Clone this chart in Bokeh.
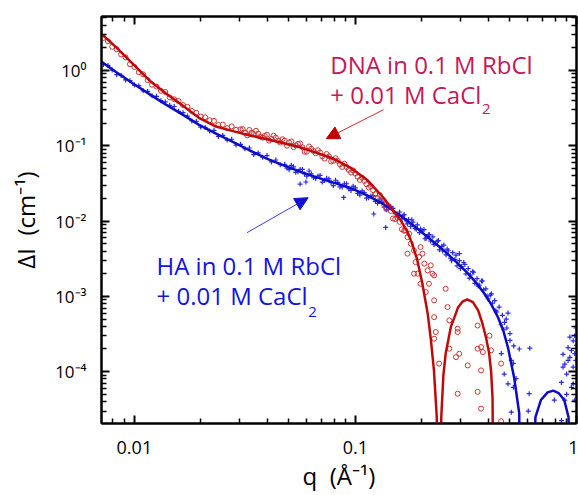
from bokeh.plotting import figure
from bokeh.models import (Range1d, LogAxis, FixedTicker, CustomJSTickFormatter,
                          Label, Arrow, NormalHead)
from bokeh.embed import file_html
from bokeh.resources import INLINE

# ---------------- data ----------------
# DNA in 0.1 M RbCl + 0.01 M CaCl2 : measured points (open circles)
dna_q = [0.00724, 0.00759, 0.00794, 0.00832, 0.00871, 0.00912, 0.00955, 0.0100, 0.01047, 0.01096,
         0.01148, 0.01202, 0.01259, 0.01318, 0.0138, 0.01445, 0.01514, 0.01585, 0.0166, 0.01738,
         0.0182, 0.01905, 0.01995, 0.02089, 0.02188, 0.02291, 0.02399, 0.02512, 0.0263, 0.02754,
         0.02884, 0.0302, 0.03162, 0.03311, 0.03467, 0.03631, 0.03802, 0.03981, 0.04169, 0.04365,
         0.04571, 0.04786, 0.05012, 0.05248, 0.05495, 0.05754, 0.06026, 0.0631, 0.06607, 0.06918,
         0.07244, 0.07586, 0.07943, 0.08318, 0.0871, 0.0912, 0.0955, 0.1, 0.1047, 0.1096,
         0.1148, 0.1202, 0.1259, 0.1318, 0.138, 0.1445, 0.1514, 0.1585, 0.166]
dna_I = [2.70, 2.44, 2.06, 1.91, 1.63, 1.49, 1.21, 1.11, 0.948, 0.889,
         0.743, 0.646, 0.610, 0.536, 0.518, 0.437, 0.414, 0.392, 0.347, 0.328,
         0.290, 0.274, 0.244, 0.239, 0.218, 0.214, 0.189, 0.191, 0.171, 0.181,
         0.163, 0.165, 0.149, 0.162, 0.143, 0.145, 0.128, 0.140, 0.123, 0.128,
         0.110, 0.117, 0.111, 0.0957, 0.106, 0.0955, 0.0832, 0.0912, 0.0794, 0.0813,
         0.0676, 0.0724, 0.0631, 0.0630, 0.0522, 0.0520, 0.0440, 0.0427, 0.0352, 0.0341,
         0.0278, 0.0257, 0.0202, 0.0187, 0.0145, 0.0136, 0.0106, 0.00975, 0.00746]
dna_q_mid = [0.0309, 0.0324, 0.0339, 0.0355, 0.0372, 0.0389, 0.0407, 0.0427, 0.0447, 0.0468,
             0.0490, 0.0513, 0.0537, 0.0562, 0.0589, 0.0617, 0.0646, 0.0676, 0.0708, 0.0741,
             0.0776, 0.0813, 0.0851, 0.0891, 0.0933, 0.0977, 0.1023, 0.1072, 0.1122, 0.1175,
             0.1230, 0.1288, 0.1349, 0.1413, 0.1479, 0.1549, 0.1622]
dna_I_mid = [0.166, 0.137, 0.149, 0.158, 0.133, 0.135, 0.117, 0.136, 0.117, 0.122,
             0.100, 0.114, 0.101, 0.107, 0.0832, 0.0977, 0.0851, 0.0871, 0.0724, 0.0776,
             0.0617, 0.0683, 0.0567, 0.0578, 0.0478, 0.0469, 0.0387, 0.0375, 0.0308, 0.0290,
             0.0228, 0.0221, 0.0164, 0.0155, 0.0108, 0.0111, 0.00778]
dna_q_tail = [0.168, 0.172, 0.178, 0.172, 0.184, 0.197, 0.194, 0.201, 0.187, 0.184,
              0.191, 0.205, 0.219, 0.223, 0.212, 0.197, 0.215, 0.227, 0.256, 0.208,
              0.227, 0.261, 0.227, 0.266, 0.231, 0.227, 0.290, 0.290, 0.357, 0.404,
              0.266, 0.285, 0.295, 0.357, 0.370, 0.377, 0.411, 0.239, 0.322, 0.370,
              0.456, 0.290, 0.357, 0.370, 0.456, 0.175]
dna_I_tail = [0.0075, 0.00612, 0.0050, 0.00369, 0.00408, 0.00451, 0.00333, 0.00369, 0.00285, 0.0020,
              0.0020, 0.00272, 0.00258, 0.0020, 0.00221, 0.00147, 0.00147, 0.0019, 0.00126, 0.00114,
              8.85e-4, 7.2e-4, 5.3e-4, 4.8e-4, 3.36e-4, 2.74e-4, 3.72e-4, 3.36e-4, 4.1e-4, 3.0e-4,
              2.02e-4, 1.56e-4, 1.73e-4, 2.02e-4, 2.12e-4, 1.82e-4, 1.92e-4, 1.28e-4, 1.21e-4, 1.04e-4,
              1.28e-4, 5.1e-5, 5.4e-5, 3.23e-5, 2.2e-5, 0.0068]

# DNA model curve (two lobes)
dna_fit_q = [0.0071, 0.00826, 0.00982, 0.0117, 0.0139, 0.0166, 0.0197, 0.0234, 0.0282, 0.0333,
             0.0398, 0.0473, 0.0562, 0.0668, 0.0794, 0.0948, 0.1135, 0.134, 0.1603, 0.1718,
             0.181, 0.1905, 0.2005, 0.2123, 0.2195, 0.2265, 0.2333, 0.2360]
dna_fit_I = [3.05, 2.04, 1.23, 0.736, 0.495, 0.339, 0.232, 0.180, 0.155, 0.137,
             0.1216, 0.1078, 0.0955, 0.0804, 0.0676, 0.0513, 0.0347, 0.0204, 0.01023, 0.00724,
             0.0049, 0.00302, 0.00151, 5.89e-4, 2.63e-4, 1.05e-4, 2.5e-5, 1e-6]
dna_fit2_q = [0.2415, 0.2445, 0.250, 0.256, 0.270, 0.291, 0.305, 0.320, 0.340, 0.359,
              0.375, 0.390, 0.402, 0.411, 0.417, 0.4215]
dna_fit2_I = [1e-6, 2.5e-5, 9e-5, 1.74e-4, 3.9e-4, 7.1e-4, 8.5e-4, 9.1e-4, 8.4e-4, 6.5e-4,
              4.4e-4, 2.8e-4, 1.8e-4, 1.0e-4, 4.5e-5, 1e-6]

# HA in 0.1 M RbCl + 0.01 M CaCl2 : measured points (crosses)
ha_q = dna_q[:68]
ha_I = [1.194, 1.164, 1.012, 0.879, 0.859, 0.748, 0.731, 0.638, 0.627, 0.536,
        0.526, 0.460, 0.453, 0.397, 0.382, 0.344, 0.332, 0.286, 0.275, 0.248,
        0.213, 0.210, 0.177, 0.175, 0.157, 0.160, 0.133, 0.137, 0.119, 0.122,
        0.102, 0.1045, 0.0910, 0.0933, 0.0762, 0.0802, 0.0703, 0.0740, 0.0610, 0.0647,
        0.0560, 0.0568, 0.0481, 0.0524, 0.0453, 0.0484, 0.0394, 0.0422, 0.0367, 0.0404,
        0.0345, 0.0362, 0.0296, 0.0326, 0.0284, 0.0313, 0.0255, 0.0275, 0.0221, 0.0238,
        0.0204, 0.0217, 0.0172, 0.0184, 0.0141, 0.0155, 0.01256, 0.01318]
ha_q_mid = [0.0490, 0.0513, 0.0537, 0.0562, 0.0589, 0.0617, 0.0646, 0.0676, 0.0708, 0.0741,
            0.0776, 0.0813, 0.0851, 0.0891, 0.0933, 0.0977, 0.1023, 0.1072, 0.1122, 0.1175,
            0.1230, 0.1288, 0.1349, 0.1413, 0.1479, 0.1549]
ha_I_mid = [0.0505, 0.0550, 0.0444, 0.0485, 0.0422, 0.0462, 0.0376, 0.0394, 0.0329, 0.0370,
            0.0324, 0.0348, 0.0284, 0.0313, 0.0267, 0.0290, 0.0233, 0.0251, 0.0201, 0.0215,
            0.01826, 0.0195, 0.01535, 0.0158, 0.01476, 0.01147]
ha_q_high = [0.1622, 0.1660, 0.1698, 0.1738, 0.1778, 0.1820, 0.1862, 0.1905, 0.1950, 0.1995,
             0.2042, 0.2089, 0.2138, 0.2188, 0.2239, 0.2291, 0.2344, 0.2399, 0.2455, 0.2512,
             0.2570, 0.2630, 0.2692, 0.2754, 0.2818, 0.2884, 0.2951, 0.3020, 0.3090, 0.3162,
             0.3236, 0.3311, 0.3388, 0.3467, 0.3548, 0.3631, 0.3715, 0.3802, 0.3890, 0.3981,
             0.4074, 0.4169, 0.4266, 0.4365, 0.4467]
ha_I_high = [0.0107, 0.0122, 0.01007, 0.0105, 0.00847, 0.00966, 0.0080, 0.00891, 0.00702, 0.00745,
             0.00771, 0.00593, 0.00659, 0.00543, 0.00618, 0.00498, 0.00540, 0.00415, 0.00461, 0.00479,
             0.00356, 0.00403, 0.00321, 0.0038, 0.0031, 0.00254, 0.00299, 0.00249, 0.00281, 0.00199,
             0.00234, 0.00192, 0.00213, 0.00149, 0.00172, 0.00141, 0.0016, 0.00122, 0.00126, 0.00093,
             0.00104, 0.00081, 0.00088, 0.00062, 0.00072]
ha_q_high2 = [0.1641, 0.1718, 0.1799, 0.1884, 0.1972, 0.2065, 0.2163, 0.2265, 0.2371, 0.2483,
              0.2600, 0.2723, 0.2851, 0.2985, 0.3126, 0.3273, 0.3428, 0.3589, 0.3758, 0.3936,
              0.4121, 0.4315]
ha_I_high2 = [0.01168, 0.00916, 0.01039, 0.00779, 0.00783, 0.00582, 0.00656, 0.00489, 0.0055, 0.0040,
              0.00425, 0.00297, 0.00353, 0.00235, 0.00265, 0.00175, 0.00209, 0.00137, 0.0016, 0.00101,
              0.00108, 0.000646]
ha_q_tail = [0.0562, 0.0597, 0.0885, 0.121, 0.137, 0.295, 0.455, 0.462, 0.468, 0.473,
             0.481, 0.484, 0.490, 0.500, 0.457, 0.471, 0.490, 0.507, 0.518, 0.518,
             0.507, 0.533, 0.551, 0.605, 0.615, 0.611, 0.794, 0.500, 0.520, 0.855,
             0.855, 0.869, 0.869, 0.885, 0.885, 0.902, 0.902, 0.916, 0.916, 0.933,
             0.933, 0.948, 0.948, 0.966, 0.966, 0.966, 0.982, 0.982, 0.982, 0.993,
             0.993, 0.998]
ha_I_tail = [0.031, 0.033, 0.0206, 0.0124, 0.00824, 0.0037, 4.2e-4, 5.6e-4, 3.6e-4, 4.5e-4,
             5.0e-4, 3.8e-4, 6.0e-4, 3.2e-4, 1.74e-4, 9.3e-5, 6.9e-5, 1.41e-4, 1.29e-4, 6.2e-5,
             2.9e-5, 8.1e-5, 2.0e-4, 3.0e-5, 2.05e-4, 5.1e-5, 4.2e-5, 2.6e-4, 2.2e-4, 2.24e-5,
             7.2e-5, 1.15e-4, 1.70e-4, 1.26e-4, 4.2e-5, 5.0e-5, 9.3e-5, 1.41e-4, 2.09e-4, 2.88e-4,
             1.55e-4, 1.91e-4, 6.2e-5, 2.57e-4, 1.15e-4, 6.9e-5, 3.0e-4, 1.74e-4, 4.2e-5, 3.8e-4,
             1.41e-4, 2.24e-4]

# HA model curve (two lobes)
ha_fit_q = [0.00706, 0.00826, 0.00982, 0.0117, 0.0139, 0.0166, 0.0197, 0.0234, 0.0279, 0.0331,
            0.0397, 0.0473, 0.0562, 0.0668, 0.0796, 0.0948, 0.113, 0.1346, 0.1603, 0.1905,
            0.2188, 0.2512, 0.2871, 0.3236, 0.352, 0.3819, 0.411, 0.4416, 0.466, 0.4898,
            0.5224, 0.5508, 0.5559]
ha_fit_I = [1.318, 0.955, 0.676, 0.484, 0.351, 0.257, 0.188, 0.1445, 0.1122, 0.0871,
            0.0676, 0.0550, 0.0452, 0.0380, 0.0324, 0.0275, 0.0219, 0.0166, 0.01175, 0.00794,
            0.00569, 0.00407, 0.00282, 0.0020, 0.00151, 0.0011, 7.9e-4, 5.25e-4, 3.55e-4, 2.09e-4,
            8.3e-5, 2.8e-5, 1e-6]
ha_fit2_q = [0.628, 0.652, 0.69, 0.74, 0.785, 0.83, 0.88, 0.92, 0.95]
ha_fit2_I = [1e-6, 2.5e-5, 4.2e-5, 5.3e-5, 5.6e-5, 5.2e-5, 4.2e-5, 2.5e-5, 1e-6]

# axes
x_ticks = [0.01, 0.1, 1]
y_ticks = [1, 0.1, 0.01, 0.001, 0.0001]
x_title = "q \u00a0(Å⁻¹)"
y_title = "ΔI \u00a0(cm⁻¹)"

# ---------------- styling ----------------
X_START, X_END = 0.0071, 1.0
Y_START, Y_END = 2.05e-5, 5.2
FONT = "Open Sans"
DNA_TEXT = "#c4195a"
HA_TEXT = "#1414e0"
RED_LINE = "#c00a0a"
BLUE_LINE = "#0c0cc8"
RED_MARK = "#d03434"
BLUE_MARK = "#2a2ae6"

x_minor = [m * 10.0 ** k for k in (-3, -2, -1) for m in range(2, 10)
           if X_START < m * 10.0 ** k < X_END]
y_minor = [m * 10.0 ** k for k in range(-5, 1) for m in range(2, 10)
           if Y_START < m * 10.0 ** k < Y_END]

p = figure(width=578, height=495, x_axis_type="log", y_axis_type="log",
           x_range=Range1d(X_START, X_END), y_range=Range1d(Y_START, Y_END),
           output_backend="svg", toolbar_location=None,
           min_border_left=101, min_border_right=2, min_border_top=16, min_border_bottom=72)
p.xgrid.visible = False
p.ygrid.visible = False
p.outline_line_color = "black"
p.outline_line_width = 2
p.background_fill_color = "white"
p.border_fill_color = "white"


def style_axis(ax, labels):
    ax.axis_line_color = "black"
    ax.axis_line_width = 2
    ax.major_tick_in = 8
    ax.major_tick_out = 0
    ax.minor_tick_in = 5
    ax.minor_tick_out = 0
    ax.major_tick_line_color = "black"
    ax.minor_tick_line_color = "black"
    ax.major_tick_line_width = 2
    ax.minor_tick_line_width = 1.5
    if labels:
        ax.major_label_text_font = FONT
        ax.major_label_text_font_size = "18px"
        ax.major_label_text_color = "black"
        ax.major_label_standoff = 14
        ax.axis_label_text_font = FONT
        ax.axis_label_text_font_size = "24px"
        ax.axis_label_text_font_style = "normal"
        ax.axis_label_text_color = "black"
    else:
        ax.formatter = CustomJSTickFormatter(code="return ' ';")
        ax.major_label_text_font_size = "1px"
        ax.major_label_text_alpha = 0
        ax.major_label_standoff = 0


xb = p.xaxis[0]
xb.ticker = FixedTicker(ticks=x_ticks, minor_ticks=x_minor)
xb.formatter = CustomJSTickFormatter(code="return String(tick);")
style_axis(xb, True)
xb.major_label_standoff = 17
xb.axis_label = x_title
xb.axis_label_standoff = 2

yl = p.yaxis[0]
yl.ticker = FixedTicker(ticks=y_ticks, minor_ticks=y_minor)
style_axis(yl, True)
yl.formatter = CustomJSTickFormatter(code="""
const sup = {"0":"\u2070","1":"\u00b9","2":"\u00b2","3":"\u00b3","4":"\u2074",
             "5":"\u2075","6":"\u2076","7":"\u2077","8":"\u2078","9":"\u2079","-":"\u207b"};
const e = String(Math.round(Math.log10(tick)));
return "10" + e.split("").map(c => sup[c]).join("");
""")
yl.major_label_text_font_size = "17px"
yl.major_label_standoff = 15
yl.axis_label = y_title
yl.axis_label_standoff = 10

xt = LogAxis(ticker=FixedTicker(ticks=x_ticks, minor_ticks=x_minor))
style_axis(xt, False)
p.add_layout(xt, "above")
yr = LogAxis(ticker=FixedTicker(ticks=y_ticks, minor_ticks=y_minor))
style_axis(yr, False)
p.add_layout(yr, "right")

# data markers
p.scatter(ha_q + ha_q_mid + ha_q_high + ha_q_high2 + ha_q_tail,
          ha_I + ha_I_mid + ha_I_high + ha_I_high2 + ha_I_tail,
          marker="cross", size=5, line_color=BLUE_MARK, line_width=1.2)
p.scatter(dna_q + dna_q_mid + dna_q_tail, dna_I + dna_I_mid + dna_I_tail,
          marker="circle", size=5, fill_color=None, line_color=RED_MARK, line_width=1)

# model curves
p.line(ha_fit_q, ha_fit_I, line_color=BLUE_LINE, line_width=2.5)
p.line(ha_fit2_q, ha_fit2_I, line_color=BLUE_LINE, line_width=2.5)
p.line(dna_fit_q, dna_fit_I, line_color=RED_LINE, line_width=2.5)
p.line(dna_fit2_q, dna_fit2_I, line_color=RED_LINE, line_width=2.5)

# annotations
p.add_layout(Label(x=0.0769, y=1.216, text="DNA in 0.1 M RbCl", text_font=FONT,
                   text_font_size="24px", text_color=DNA_TEXT, text_baseline="alphabetic"))
p.add_layout(Label(x=0.0769, y=0.486, text="+ 0.01 M CaCl", text_font=FONT,
                   text_font_size="24px", text_color=DNA_TEXT, text_baseline="alphabetic"))
p.add_layout(Label(x=0.374, y=0.310, text="2", text_font=FONT,
                   text_font_size="15px", text_color=DNA_TEXT, text_baseline="alphabetic"))
p.add_layout(Label(x=0.01259, y=0.00255, text="HA in 0.1 M RbCl", text_font=FONT,
                   text_font_size="24px", text_color=HA_TEXT, text_baseline="alphabetic"))
p.add_layout(Label(x=0.01259, y=0.00102, text="+ 0.01 M CaCl", text_font=FONT,
                   text_font_size="24px", text_color=HA_TEXT, text_baseline="alphabetic"))
p.add_layout(Label(x=0.0611, y=6.26e-4, text="2", text_font=FONT,
                   text_font_size="15px", text_color=HA_TEXT, text_baseline="alphabetic"))

p.add_layout(Arrow(x_start=0.134, y_start=0.301, x_end=0.0738, y_end=0.124,
                   line_color="#d02828", line_width=1,
                   end=NormalHead(size=13, fill_color="#c00000", line_color="#c00000")))
p.add_layout(Arrow(x_start=0.0323, y_start=0.0070, x_end=0.0611, y_end=0.0204,
                   line_color="#3a3aff", line_width=1,
                   end=NormalHead(size=13, fill_color="#1010d0", line_color="#1010d0")))

open("out.html", "w").write(file_html(p, INLINE))
